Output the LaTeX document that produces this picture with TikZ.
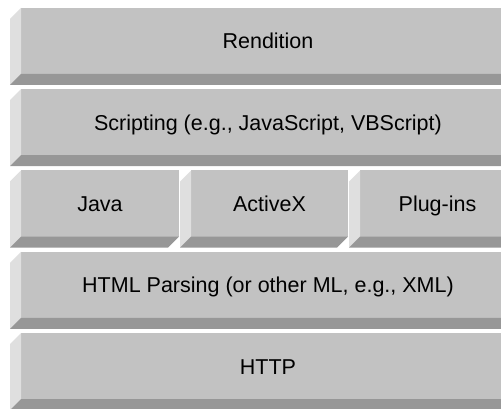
\documentclass[tikz,border=0pt]{standalone}
\usepackage{fontspec}
\setmainfont{Liberation Sans}
\usetikzlibrary{calc}
\definecolor{facegray}{HTML}{C2C2C2}
\definecolor{litegray}{HTML}{DFDFDF}
\definecolor{darkgray}{HTML}{979797}
\tikzset{
  face/.style={fill=facegray, inner sep=0pt, outer sep=0pt, anchor=north west},
  layertext/.style={font=\fontsize{21.5}{25}\selectfont, text=black, anchor=base, inner sep=0pt},
  litebevel/.style={fill=litegray},
  darkbevel/.style={fill=darkgray}
}
% #1 name, #2 x0, #3 x1, #4 top y, #5 text
\newcommand\layerbox[5]{%
  \pgfmathsetmacro\lbw{#3-#2-11}%
  \node[face, minimum width=\lbw pt, minimum height=66pt] (#1) at (#2+11,#4) {};
  \fill[litebevel] (#1.north west) -- ++(-11,11) -- ++(0,66) -- (#1.south west) -- cycle;
  \fill[darkbevel] (#1.south west) -- (#1.south east) -- ++(-11,11) -- ($(#1.south west)+(-11,11)$) -- cycle;
  \node[layertext] (#1-t) at ($(#1.north)+(0,41)$) {#5};
}
\begin{document}
\begin{tikzpicture}[x=1pt,y=-1pt]
\useasboundingbox (0,0) rectangle (501,409);
\clip (0,0) rectangle (501,409);
\layerbox{rend}{10}{515}{8}{Rendition}
\layerbox{script}{10}{515}{89.25}{Scripting (e.g., JavaScript, VBScript)}
\layerbox{java}{10}{179}{170.5}{Java}
\layerbox{activex}{180}{348}{170.5}{ActiveX}
\layerbox{plugins}{349}{515}{170.5}{Plug-ins}
\layerbox{html}{10}{515}{251.75}{HTML Parsing (or other ML, e.g., XML)}
\layerbox{http}{10}{515}{333}{HTTP}
\end{tikzpicture}
\end{document}
